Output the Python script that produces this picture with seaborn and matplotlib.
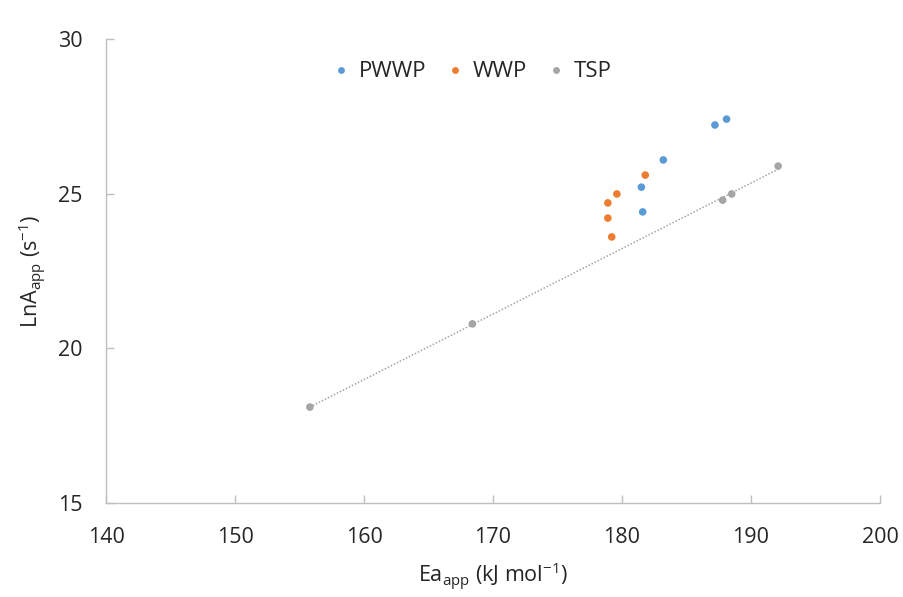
import matplotlib
matplotlib.use("Agg")
import matplotlib.pyplot as plt
import seaborn as sns
import pandas as pd

# Apparent activation energy (kJ/mol) and ln of pre-exponential factor (1/s)
pwwp_ea = [187.2, 188.1, 183.2, 181.5, 181.6]
pwwp_lna = [27.22, 27.41, 26.09, 25.21, 24.41]

wwp_ea = [181.8, 179.6, 178.9, 178.9, 179.2]
wwp_lna = [25.60, 24.99, 24.70, 24.21, 23.60]

tsp_ea = [155.8, 168.4, 187.8, 188.5, 192.1]
tsp_lna = [18.10, 20.79, 24.79, 24.99, 25.89]

series_names = ["PWWP", "WWP", "TSP"]
colors = ["#5B9BD5", "#ED7D31", "#A5A5A5"]

x_ticks = [140, 150, 160, 170, 180, 190, 200]
y_ticks = [15, 20, 25, 30]

df = pd.concat([
    pd.DataFrame({"Ea": pwwp_ea, "LnA": pwwp_lna, "Sample": "PWWP"}),
    pd.DataFrame({"Ea": wwp_ea, "LnA": wwp_lna, "Sample": "WWP"}),
    pd.DataFrame({"Ea": tsp_ea, "LnA": tsp_lna, "Sample": "TSP"}),
], ignore_index=True)

sns.set_style("white", {"xtick.direction": "in", "ytick.direction": "in"})
plt.rcParams["font.family"] = ["Open Sans", "DejaVu Sans"]

fig = plt.figure(figsize=(9.04, 5.97), dpi=100)
ax = fig.add_axes([0.1173, 0.1575, 0.8562, 0.7772])

# Linear trend through the TSP points
sns.regplot(data=df[df["Sample"] == "TSP"], x="Ea", y="LnA", ax=ax,
            scatter=False, ci=None,
            line_kws=dict(color="#A5A5A5", linestyle=(0, (1, 1.2)), linewidth=1.1))

sns.scatterplot(data=df, x="Ea", y="LnA", hue="Sample", hue_order=series_names,
                palette=colors, s=30, edgecolor="none", ax=ax, zorder=3)

ax.set_xlim(140, 200)
ax.set_ylim(15, 30)
ax.set_xticks(x_ticks)
ax.set_yticks(y_ticks)
ax.tick_params(axis="both", which="major", bottom=True, left=True,
               direction="in", length=6, width=1, color="#BFBFBF",
               labelsize=15.5, labelcolor="#262626")
ax.tick_params(axis="x", pad=17)
ax.tick_params(axis="y", pad=17)

for side in ["top", "right"]:
    ax.spines[side].set_visible(False)
for side in ["left", "bottom"]:
    ax.spines[side].set_color("#BFBFBF")
    ax.spines[side].set_linewidth(1)

ax.set_xlabel(r"Ea$_{\mathregular{app}}$ (kJ mol$^{\mathregular{-1}}$)", fontsize=15.5,
              color="#262626", labelpad=9)
ax.set_ylabel(r"LnA$_{\mathregular{app}}$ (s$^{\mathregular{-1}}$)", fontsize=15.5,
              color="#262626", labelpad=7)

handles, labels = ax.get_legend_handles_labels()
ax.legend(handles, labels, loc="center", bbox_to_anchor=(0.474, 0.929), ncol=3,
          frameon=False, fontsize=16, handlelength=0.6, handletextpad=0.5,
          columnspacing=1.0, markerscale=0.9, labelcolor="#262626")

fig.savefig("out.png", dpi=100)
